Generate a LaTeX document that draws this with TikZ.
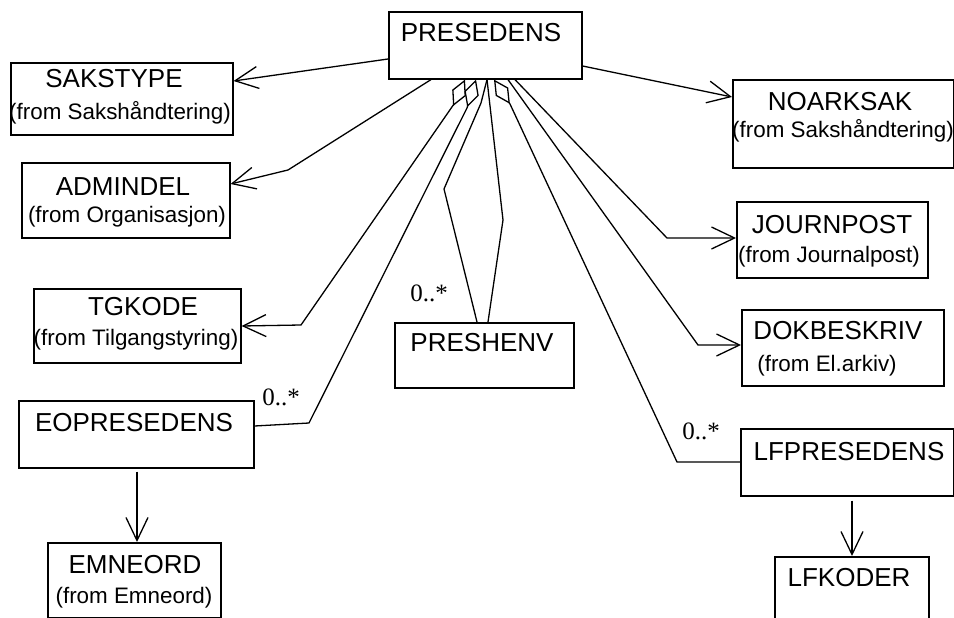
\documentclass[tikz,border=0pt]{standalone}
\usepackage{fontspec}
\setmainfont{Liberation Sans}
\newfontfamily\multfont{Liberation Serif}
\usetikzlibrary{arrows.meta}
\tikzset{>={Straight Barb[length=23pt,width=22pt]}}
\tikzset{
  cls/.style={draw, line width=1.6pt, anchor=north west, inner sep=0pt},
  ttl/.style={font=\fontsize{26}{30}\selectfont, inner sep=0pt},
  frm/.style={font=\fontsize{22.4}{26}\selectfont, inner sep=0pt},
  card/.style={font=\multfont\fontsize{25}{28}\selectfont, inner sep=0pt},
  assoc/.style={line width=1.3pt},
}

\begin{document}
\begin{tikzpicture}[x=1pt, y=-1pt]

  \newcommand\Agg{Diamond[open,length=29pt,width=15pt]}

  \useasboundingbox (0,0) rectangle (954,618);

  %% classes
  \node[cls, minimum width=193pt, minimum height=67pt] (pres) at (388,11) {};
  \node[ttl] (pres-t) at (481,33) {PRESEDENS};

  \node[cls, minimum width=222pt, minimum height=72pt] (sakstype) at (10,62) {};
  \node[ttl] (sakstype-t) at (114,79) {SAKSTYPE};
  \node[frm] (sakstype-f) at (120,113) {(from Sakshåndtering)};

  \node[cls, minimum width=208pt, minimum height=75pt] (admindel) at (21,162) {};
  \node[ttl] (admindel-t) at (123,187) {ADMINDEL};
  \node[frm] (admindel-f) at (127,217) {(from Organisasjon)};

  \node[cls, minimum width=207pt, minimum height=74pt] (tgkode) at (33,288) {};
  \node[ttl] (tgkode-t) at (143,307) {TGKODE};
  \node[frm] (tgkode-f) at (136,340) {(from Tilgangstyring)};

  \node[cls, minimum width=235pt, minimum height=67pt] (eopres) at (18,400) {};
  \node[ttl] (eopres-t) at (134,423) {EOPRESEDENS};

  \node[cls, minimum width=173pt, minimum height=75pt] (emneord) at (47,542) {};
  \node[ttl] (emneord-t) at (135,565) {EMNEORD};
  \node[frm] (emneord-f) at (134,598) {(from Emneord)};

  \node[cls, minimum width=179pt, minimum height=65pt] (preshenv) at (394,322) {};
  \node[ttl] (preshenv-t) at (482,343) {PRESHENV};

  \node[cls, minimum width=221pt, minimum height=88pt] (noarksak) at (732,79) {};
  \node[ttl] (noarksak-t) at (840,102) {NOARKSAK};
  \node[frm] (noarksak-f) at (843,131) {(from Sakshåndtering)};

  \node[cls, minimum width=191pt, minimum height=76pt] (journpost) at (736,201) {};
  \node[ttl] (journpost-t) at (832,225) {JOURNPOST};
  \node[frm] (journpost-f) at (829,257) {(from Journalpost)};

  \node[cls, minimum width=202pt, minimum height=76pt] (dokbeskriv) at (741,309) {};
  \node[ttl] (dokbeskriv-t) at (838,331) {DOKBESKRIV};
  \node[frm] (dokbeskriv-f) at (827,366) {(from El.arkiv)};

  \node[cls, minimum width=213pt, minimum height=67pt] (lfpres) at (740,428) {};
  \node[ttl] (lfpres-t) at (849,452) {LFPRESEDENS};

  \node[cls, minimum width=154pt, minimum height=75pt] (lfkoder) at (774,556) {};
  \node[ttl] (lfkoder-t) at (849,578) {LFKODER};

  %% associations out of PRESEDENS
  \draw[assoc,->] (pres.west |- 0,59) -- (sakstype.east |- 0,81); % PRESEDENS->SAKSTYPE
  \draw[assoc,->] (pres.south -| 431,0) -- (288,170) -- (admindel.east |- 0,184); % PRESEDENS->ADMINDEL
  \draw[assoc,{\Agg}->] (pres.south -| 465,0) -- (454,104) -- (301,325) -- (tgkode.east |- 0,326); % PRESEDENS->TGKODE
  \draw[assoc,{\Agg}-] (pres.south -| 476,0) -- (467,108) -- (309,423) -- (eopres.east |- 0,426); % PRESEDENS-EOPRESEDENS
  \draw[assoc] (preshenv.north -| 477,0) -- (444,189) -- (481,103) -- (pres.south -| 487,0); % PRESHENV-PRESEDENS
  \draw[assoc] (preshenv.north -| 488,0) -- (503,220) -- (pres.south -| 487,0); % PRESHENV-PRESEDENS
  \draw[assoc,{\Agg}-] (pres.south -| 494,0) -- (510,104) -- (677,462) -- (lfpres.west |- 0,462); % PRESEDENS-LFPRESEDENS
  \draw[assoc,->] (pres.south -| 508,0) -- (698,345) -- (dokbeskriv.west |- 0,345); % PRESEDENS->DOKBESKRIV
  \draw[assoc,->] (pres.south -| 515,0) -- (667,238) -- (journpost.west |- 0,238); % PRESEDENS->JOURNPOST
  \draw[assoc,->] (pres.east |- 0,66) -- (noarksak.west |- 0,97); % PRESEDENS->NOARKSAK

  %% the two lower arrows
  \draw[assoc,->] ([yshift=-3pt]eopres.south -| 137,0) -- (emneord.north -| 137,0); % EOPRESEDENS->EMNEORD
  \draw[assoc,->] ([yshift=-4pt]lfpres.south -| 852,0) -- (lfkoder.north -| 852,0); % LFPRESEDENS->LFKODER

  %% multiplicities
  \node[card] (m-eo) at (281,397) {0..*};
  \node[card] (m-ph) at (429,293) {0..*};
  \node[card] (m-lf) at (701,431) {0..*};

\end{tikzpicture}
\end{document}
